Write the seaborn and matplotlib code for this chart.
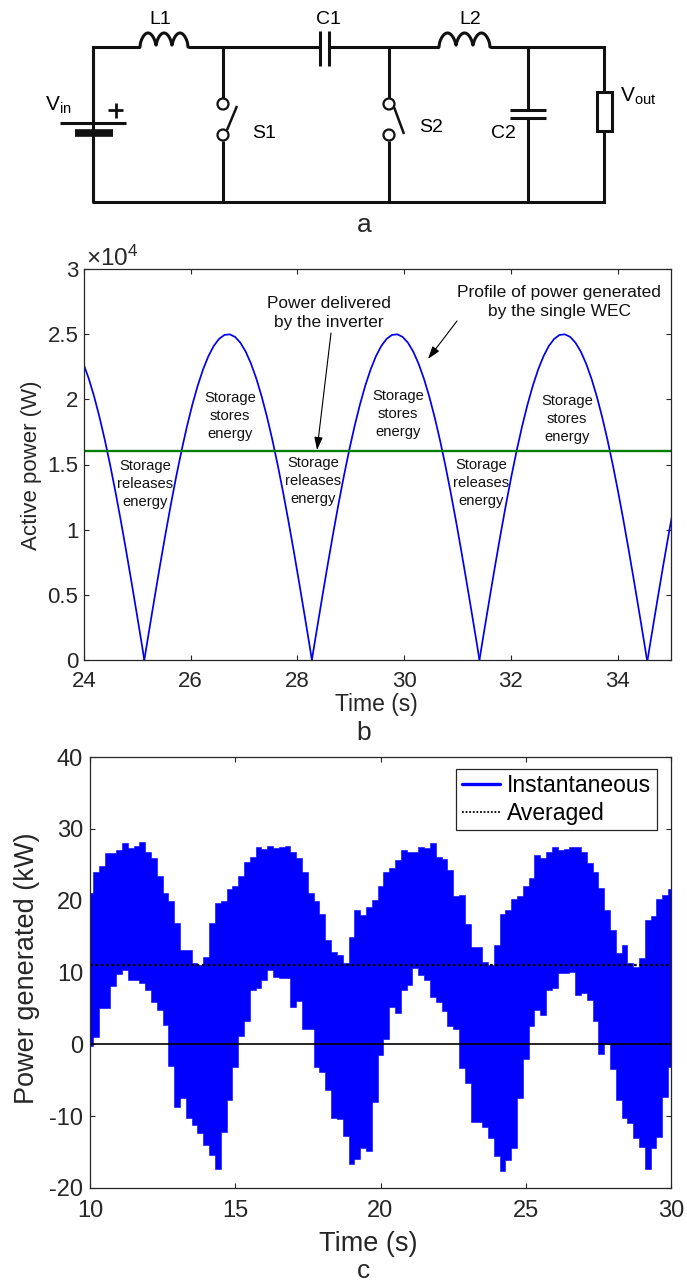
import numpy as np
import pandas as pd
import matplotlib
matplotlib.use("Agg")
import matplotlib.pyplot as plt
from matplotlib.lines import Line2D
from matplotlib.patches import Circle, Rectangle
import seaborn as sns

# ---------- panel b data ----------
arch_offset_s = [0, .1, .2, .3, .4, .5, .6, .7, .8, .9, 1.0, 1.1, 1.2, 1.3, 1.4, 1.5, 1.6,
                 1.7, 1.8, 1.9, 2.0, 2.1, 2.2, 2.3, 2.4, 2.5, 2.6, 2.7, 2.8, 2.9, 3.0, 3.1, 3.14]
arch_power_w = [0, 2496, 4967, 7388, 9735, 11986, 14116, 16105, 17934, 19583, 21037, 22280, 23301,
                24089, 24636, 24937, 24989, 24792, 24346, 23662, 22732, 21582, 20212, 18643, 16887,
                14962, 12888, 10685, 8374, 5980, 3528, 1039, 0]
arch_start_s = [21.99, 25.13, 28.27, 31.41, 34.56]
inverter_power_w = 16000
b_xticks = [24, 26, 28, 30, 32, 34]
b_yticks = [0, 5000, 10000, 15000, 20000, 25000, 30000]
b_ylabels = ["0", "0.5", "1", "1.5", "2", "2.5", "3"]

# ---------- panel c data ----------
c_time = [10 + 0.2 * i for i in range(101)]
c_upper = [21.0, 24.0, 24.8, 26.6, 26.7, 27.1, 28.0, 27.3, 27.6, 28.2, 26.8, 25.9, 23.4, 21.0, 20.0, 16.9, 13.2,
           13.2, 11.3, 11.0, 12.2, 16.9, 19.7, 19.9, 21.6, 22.0, 23.4, 25.4, 26.1, 27.5, 27.2, 27.6, 27.3, 27.5,
           27.6, 26.8, 25.9, 24.0, 21.0, 19.9, 18.2, 14.5, 12.9, 12.4, 11.3, 15.0, 18.7, 18.0, 19.1, 20.1, 22.1,
           24.0, 24.6, 25.6, 27.1, 26.8, 26.8, 27.5, 27.4, 28.0, 26.1, 25.8, 24.3, 20.7, 20.8, 16.8, 13.5, 13.6,
           11.5, 11.0, 13.8, 18.2, 18.7, 20.3, 20.6, 22.1, 23.1, 26.4, 25.9, 26.8, 27.5, 27.1, 27.2, 27.5, 27.5,
           26.8, 25.2, 24.0, 21.7, 18.7, 15.9, 12.7, 13.8, 11.3, 10.8, 12.0, 17.3, 17.8, 20.3, 20.8, 21.6]
c_lower = [-0.3, 1.0, 5.0, 5.0, 8.1, 9.8, 10.4, 8.9, 9.0, 8.5, 7.6, 5.9, 4.8, 2.7, -3.0, -8.7, -7.5,
           -10.3, -11.2, -12.4, -14.0, -15.4, -17.3, -12.2, -7.8, -3.2, 1.1, 3.3, 7.6, 7.8, 9.0, 10.4, 9.4, 9.3,
           9.2, 5.2, 6.1, 2.2, 2.1, -3.2, -3.9, -6.4, -10.3, -10.4, -12.7, -16.6, -16.0, -14.5, -14.9, -8.0, -1.5,
           0.8, 5.2, 4.3, 7.6, 8.3, 10.6, 9.7, 9.0, 6.6, 5.9, 4.7, 2.6, 2.2, -3.3, -5.4, -10.8, -10.8,
           -11.5, -13.1, -15.6, -17.7, -16.1, -14.5, -7.5, -2.0, 2.5, 4.8, 4.1, 7.6, 7.8, 10.0, 9.9, 10.1,
           6.9, 7.1, 6.2, 3.2, -1.3, 0.1, -3.5, -7.8, -10.2, -11.0, -13.1, -14.3, -17.3, -14.5, -12.9, -7.3, -3.1]
c_average_kw = 11.1
c_xticks = [10, 15, 20, 25, 30]
c_yticks = [-20, -10, 0, 10, 20, 30, 40]
legend_labels = ["Instantaneous", "Averaged"]

W, H = 687, 1281
FONT = "Liberation Sans"
DARK = "#262626"

sns.set_theme(style="ticks", rc={
    "axes.edgecolor": DARK, "axes.linewidth": 0.9,
    "xtick.direction": "in", "ytick.direction": "in",
    "xtick.top": True, "ytick.right": True,
    "xtick.color": DARK, "ytick.color": DARK,
    "xtick.major.size": 3.8, "ytick.major.size": 3.8,
    "xtick.major.width": 0.8, "ytick.major.width": 0.8,
    "axes.labelcolor": DARK, "text.color": "black",
})
plt.rcParams["font.family"] = [FONT, "DejaVu Sans"]
plt.rcParams["mathtext.fontset"] = "custom"
plt.rcParams["mathtext.rm"] = FONT
plt.rcParams["mathtext.default"] = "rm"

fig = plt.figure(figsize=(W / 100, H / 100), dpi=100, facecolor="white")


def px_axes(left, top, right, bottom):
    return fig.add_axes([left / W, 1 - bottom / H, (right - left) / W, (bottom - top) / H])


# ---------- panel b ----------
ax_b = px_axes(84, 269, 671, 660)
df_b = pd.concat([pd.DataFrame({"t": np.array(arch_offset_s) + s, "p": arch_power_w, "arch": i})
                  for i, s in enumerate(arch_start_s)])
sns.lineplot(data=df_b, x="t", y="p", units="arch", estimator=None, color="#0000ee", lw=1.25, ax=ax_b)
sns.lineplot(x=[24, 35], y=[inverter_power_w, inverter_power_w], color="#007f00", lw=1.7, ax=ax_b)
ax_b.set_xlim(24, 35)
ax_b.set_ylim(0, 30000)
ax_b.set_xticks(b_xticks)
ax_b.set_yticks(b_yticks, b_ylabels)
ax_b.tick_params(labelsize=16, colors=DARK)
ax_b.tick_params(axis="x", pad=8)
ax_b.tick_params(axis="y", pad=4)
ax_b.set_xlabel("")
ax_b.set_ylabel("")

# ---------- panel c ----------
ax_c = px_axes(90, 757, 671, 1188)
df_c = pd.DataFrame({"t": c_time + c_time, "p": c_upper + c_lower})
sns.lineplot(data=df_c, x="t", y="p", estimator="mean",
             errorbar=lambda v: (v.min(), v.max()), color="#0000ff", lw=0.5,
             err_kws={"alpha": 1, "step": "mid", "linewidth": 0.4}, ax=ax_c)
sns.lineplot(x=[10, 30], y=[0, 0], color="black", lw=1.2, ax=ax_c)
sns.lineplot(x=[10, 30], y=[c_average_kw, c_average_kw], color="black", lw=1.6,
             linestyle=(0, (1.2, 1.2)), ax=ax_c)
ax_c.set_xlim(10, 30)
ax_c.set_ylim(-20, 40)
ax_c.set_xticks(c_xticks)
ax_c.set_yticks(c_yticks, [str(v) for v in c_yticks])
ax_c.tick_params(labelsize=17, colors=DARK)
ax_c.tick_params(axis="x", pad=8.5)
ax_c.tick_params(axis="y", pad=5)
ax_c.set_xlabel("")
ax_c.set_ylabel("")
handles = [Line2D([], [], color="#0000ff", lw=2.4),
           Line2D([], [], color="black", lw=1.3, linestyle=(0, (1, 1)))]
ax_c.legend(handles, legend_labels, loc="upper left", bbox_to_anchor=(456 / W, 1 - 769 / H),
            bbox_transform=fig.transFigure, borderaxespad=0, fontsize=16.5, frameon=True,
            fancybox=False, framealpha=1, edgecolor=DARK, borderpad=0.24, handlelength=1.7,
            handletextpad=0.28, labelspacing=0.18, labelcolor="black").get_frame().set_linewidth(0.9)

# ---------- overlay in pixel space: circuit, panel texts ----------
ov = fig.add_axes([0, 0, 1, 1], facecolor="none", zorder=5)
ov.set_xlim(0, W)
ov.set_ylim(H, 0)
ov.axis("off")
WIRE = 2.2


def wire(*pts, lw=WIRE):
    xs, ys = zip(*pts)
    ov.plot(xs, ys, color="#111111", lw=lw, solid_capstyle="butt", solid_joinstyle="miter")


def inductor(x0, x1, y):
    u = np.linspace(0, 1, 120)
    ov.plot(x0 + (x1 - x0) * u, y - 14 * np.abs(np.sin(3 * np.pi * u)) ** 0.55,
            color="#111111", lw=WIRE)


def term(x, y):
    ov.add_patch(Circle((x, y), 5.5, fc="white", ec="#111111", lw=1.6, zorder=3))


# top rail, left rail, bottom rail, right rail
wire((93, 202), (93, 47), (140, 47))
inductor(140, 188, 47)
wire((188, 47), (320, 47))
wire((329, 47), (439, 47))
inductor(439, 490, 47)
wire((490, 47), (604, 47), (604, 202), (92, 202))
# C1
wire((320, 31), (320, 66))
wire((329, 31), (329, 66))
# S1
wire((223, 47), (223, 98))
wire((223, 141), (223, 202))
term(223, 104)
term(223, 135)
wire((237, 106), (227, 130), lw=1.8)
# S2
wire((389, 47), (389, 98))
wire((389, 141), (389, 202))
term(389, 104)
term(389, 135)
wire((394, 107), (404, 134), lw=1.8)
# C2
wire((528, 47), (528, 110))
wire((528, 118), (528, 202))
wire((510, 110), (546, 110))
wire((510, 118), (546, 118))
# load
ov.add_patch(Rectangle((597, 92), 15, 39, fc="white", ec="#111111", lw=WIRE, zorder=3))
# source
wire((93, 47), (93, 122))
wire((93, 136), (93, 202))
wire((60, 123), (126, 123))
wire((75, 133), (113, 133), lw=5.5)
wire((108, 110), (123, 110), lw=2.0)
wire((115.5, 103), (115.5, 118), lw=2.0)

for s, x, y in [("L1", 160, 20), ("C1", 328, 19), ("L2", 470, 20), ("S1", 264, 134),
                ("S2", 431, 127), ("C2", 503, 133)]:
    ov.text(x, y, s, fontsize=14, ha="center", va="center")
ov.text(45, 105, "V$_{\\mathrm{in}}$", fontsize=15, ha="left", va="center")
ov.text(620, 96, "V$_{\\mathrm{out}}$", fontsize=15, ha="left", va="center")
ov.text(364, 225, "a", fontsize=19, ha="center", va="center", color=DARK)
ov.text(364, 733, "b", fontsize=19, ha="center", va="center", color=DARK)
ov.text(364, 1271, "c", fontsize=19, ha="center", va="center", color=DARK)

ov.text(86, 258, "×10$^{4}$", fontsize=17.5, ha="left", va="center", color=DARK)
ov.text(32, 465, "Active power (W)", fontsize=16, rotation=90, ha="center", va="center", color=DARK)
ov.text(376, 704, "Time (s)", fontsize=16.5, ha="center", va="center", color=DARK)
ov.text(27, 968, "Power generated (kW)", fontsize=19.5, rotation=90, ha="center", va="center", color=DARK)
ov.text(368, 1244, "Time (s)", fontsize=19.5, ha="center", va="center", color=DARK)

NOTE = dict(fontsize=10.6, ha="center", va="center", linespacing=1.32, color="#111111")
for x, y in [(230, 416), (398, 414), (567, 419)]:
    ov.text(x, y, "Storage\nstores\nenergy", **NOTE)
for x, y in [(145, 484), (313, 481), (481, 483)]:
    ov.text(x, y, "Storage\nreleases\nenergy", **NOTE)
ov.text(329, 313, "Power delivered\nby the inverter", fontsize=12.4, ha="center", va="center",
        linespacing=1.3, color="#111111")
ov.text(559, 302, "Profile of power generated\nby the single WEC", fontsize=12.5, ha="center",
        va="center", linespacing=1.3, color="#111111")
for start, end in [((331, 333), (317, 450)), ((457, 321), (428, 359))]:
    ov.annotate("", xy=end, xytext=start,
                arrowprops=dict(arrowstyle="-|>,head_width=0.18,head_length=0.55", color="black",
                                lw=0.8, shrinkA=0, shrinkB=0, mutation_scale=14))

fig.savefig("out.png", dpi=100)
